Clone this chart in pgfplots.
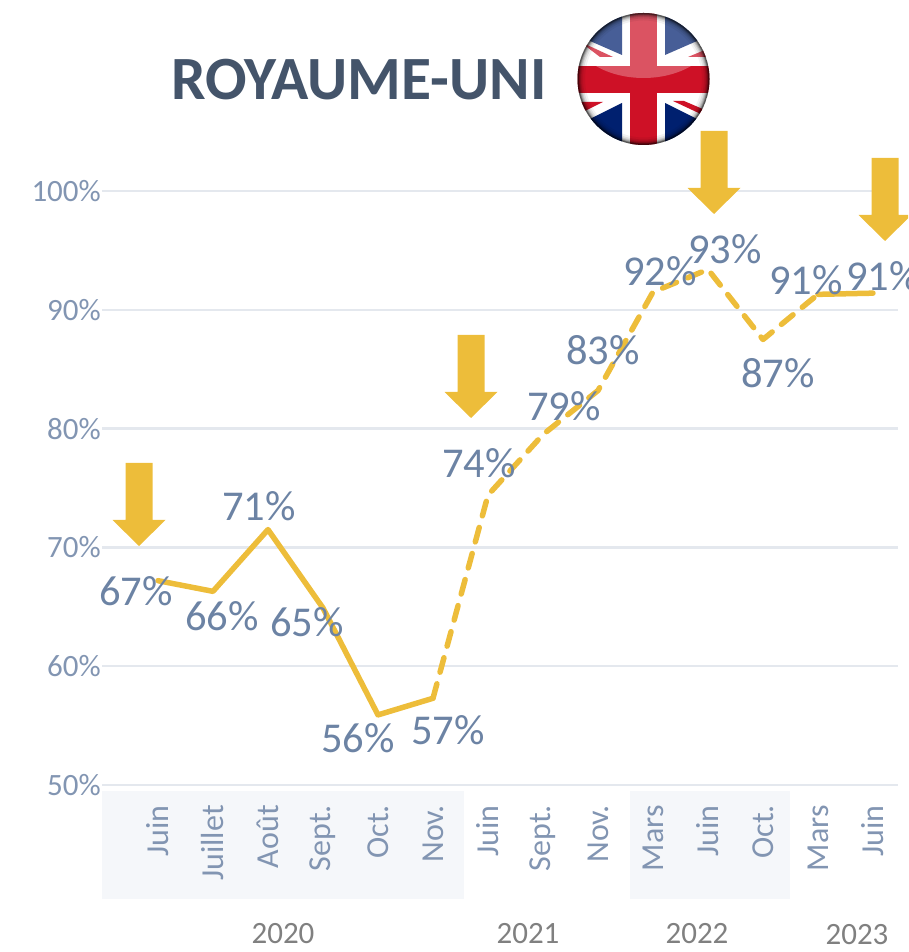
\documentclass[border=0pt]{standalone}
\usepackage{fontspec}
\setmainfont{Carlito}
\usepackage{pgfplots}
\pgfplotsset{compat=1.18}
\pgfkeys{/pgf/number format/assume math mode=true}
\definecolor{Line}{HTML}{EDBD3A}
\definecolor{Lab}{HTML}{6C83A4}
\definecolor{Tick}{HTML}{8295B2}
\definecolor{Grid}{HTML}{E4E8EE}
\definecolor{Band}{HTML}{F5F7FA}
\definecolor{Title}{HTML}{44546A}
\definecolor{FlagRed}{HTML}{CE1126}
\definecolor{FlagBlue}{HTML}{00206F}
\newcommand{\fs}[1]{\fontsize{#1}{#1}\selectfont}
\newcommand{\downarrowshape}[2]{\fill[Line] (#1-13.5,#2) -- (#1+13.5,#2) -- (#1+13.5,#2+57) -- (#1+26.5,#2+57) -- (#1,#2+83) -- (#1-26.5,#2+57) -- (#1-13.5,#2+57) -- cycle;}
\begin{document}
\begin{tikzpicture}[x=1pt,y=1pt]
\clip (0,0) rectangle (908,952);
\begin{scope}[shift={(0,952)},y=-1pt]
  \fill[Band] (102,791) rectangle (464,899);
  \fill[Band] (630,791) rectangle (790,899);
\end{scope}
\begin{axis}[at={(102pt,167pt)},anchor=south west,scale only axis,width=796pt,height=594pt,
  xmin=-1.018,xmax=13.455,ymin=50,ymax=100,clip=false,
  axis line style={draw=none},tick style={draw=none},
  ymajorgrids,grid style={Grid,line width=2.4pt},
  ytick={50,60,70,80,90,100},
  yticklabel={\pgfmathprintnumber{\tick}\%},
  yticklabel style={font=\fs{31},text=Tick,inner sep=0pt,xshift=-1pt},
  xtick={0,...,13},
  xticklabels={Juin,Juillet,Août,Sept.,Oct.,Nov.,Juin,Sept.,Nov.,Mars,Juin,Oct.,Mars,Juin},
  xticklabel style={font=\fs{32},text=Tick,rotate=90,anchor=east,inner sep=0pt,xshift=-20pt}]
\addplot[Line,line width=5.5pt,line cap=round,line join=round] coordinates {(0,67.2)(1,66.3)(2,71.5)(3,64.9)(4,55.9)(5,57.3)};
\addplot[Line,line width=5.5pt,line cap=round,line join=round,dash pattern=on 15pt off 12pt] coordinates {(5,57.3)(6,74.4)(7,79.5)(8,83.2)(9,91.5)(10,93.4)(11,87.5)(12,91.3)};
\addplot[Line,line width=5.5pt,line cap=round,line join=round] coordinates {(12,91.3)(13,91.4)};
\end{axis}
\begin{scope}[shift={(0,952)},y=-1pt]
  % data labels
  \begin{scope}[every node/.style={font=\fs{42.5},text=Lab,inner sep=0pt}]
  \node at (136,591) {67\%};
  \node at (222,616) {66\%};
  \node at (259,506) {71\%};
  \node at (307,622) {65\%};
  \node at (358,738) {56\%};
  \node at (448,730) {57\%};
  \node at (479,463) {74\%};
  \node at (564,406) {79\%};
  \node at (603,350) {83\%};
  \node at (660,271) {92\%};
  \node at (725,249) {93\%};
  \node at (778,373) {87\%};
  \node at (806,280) {91\%};
  \node at (883,276) {91\%};
  \end{scope}
  % years
  \begin{scope}[every node/.style={font=\fs{31},text=black!50,inner sep=0pt}]
  \node at (283,934) {2020};
  \node at (528,934) {2021};
  \node at (697,934) {2022};
  \node at (857,935) {2023};
  \end{scope}
  \node[font=\fs{61.5}\bfseries,text=Title,inner sep=0pt,anchor=west] at (171,80) {ROYAUME-UNI};
  % arrows
  \downarrowshape{139}{463}
  \downarrowshape{471}{335}
  \downarrowshape{714}{131}
  \downarrowshape{885}{158}
  % flag
  \begin{scope}
    \clip (643.5,79) circle (66);
    \fill[white] (570,5) rectangle (720,155);
    \fill[FlagBlue] (622,5) -- (622,55) -- (590,41) -- (570,30) -- (570,5) -- cycle;
    \fill[FlagBlue] (665,5) -- (665,55) -- (697,41) -- (720,30) -- (720,5) -- cycle;
    \fill[FlagBlue] (622,155) -- (622,103) -- (592,118) -- (570,128) -- (570,155) -- cycle;
    \fill[FlagBlue] (665,155) -- (665,103) -- (695,118) -- (720,128) -- (720,155) -- cycle;
    \fill[FlagRed] (575,38) -- (585,44) -- (613,57) -- (600,57) -- cycle;
    \fill[FlagRed] (688,57) -- (712,47) -- (712,57) -- cycle;
    \fill[FlagRed] (580,102) -- (603,102) -- (585,111) -- cycle;
    \fill[FlagRed] (673,101) -- (684,101) -- (712,113) -- (705,116) -- cycle;
    \fill[FlagRed] (630,5) rectangle (657,155);
    \fill[FlagRed] (570,66) rectangle (720,93);
    % gloss on the upper half
    \fill[white,opacity=.28] (643.5,30) ellipse (72 and 48);
    \foreach \w/\o in {14/.05,10/.08,7/.1,5/.14,3/.22,1.5/.35}
      \draw[black,opacity=\o,line width=\w pt] (643.5,79) circle (65.5);
  \end{scope}
\end{scope}
\end{tikzpicture}
\end{document}
